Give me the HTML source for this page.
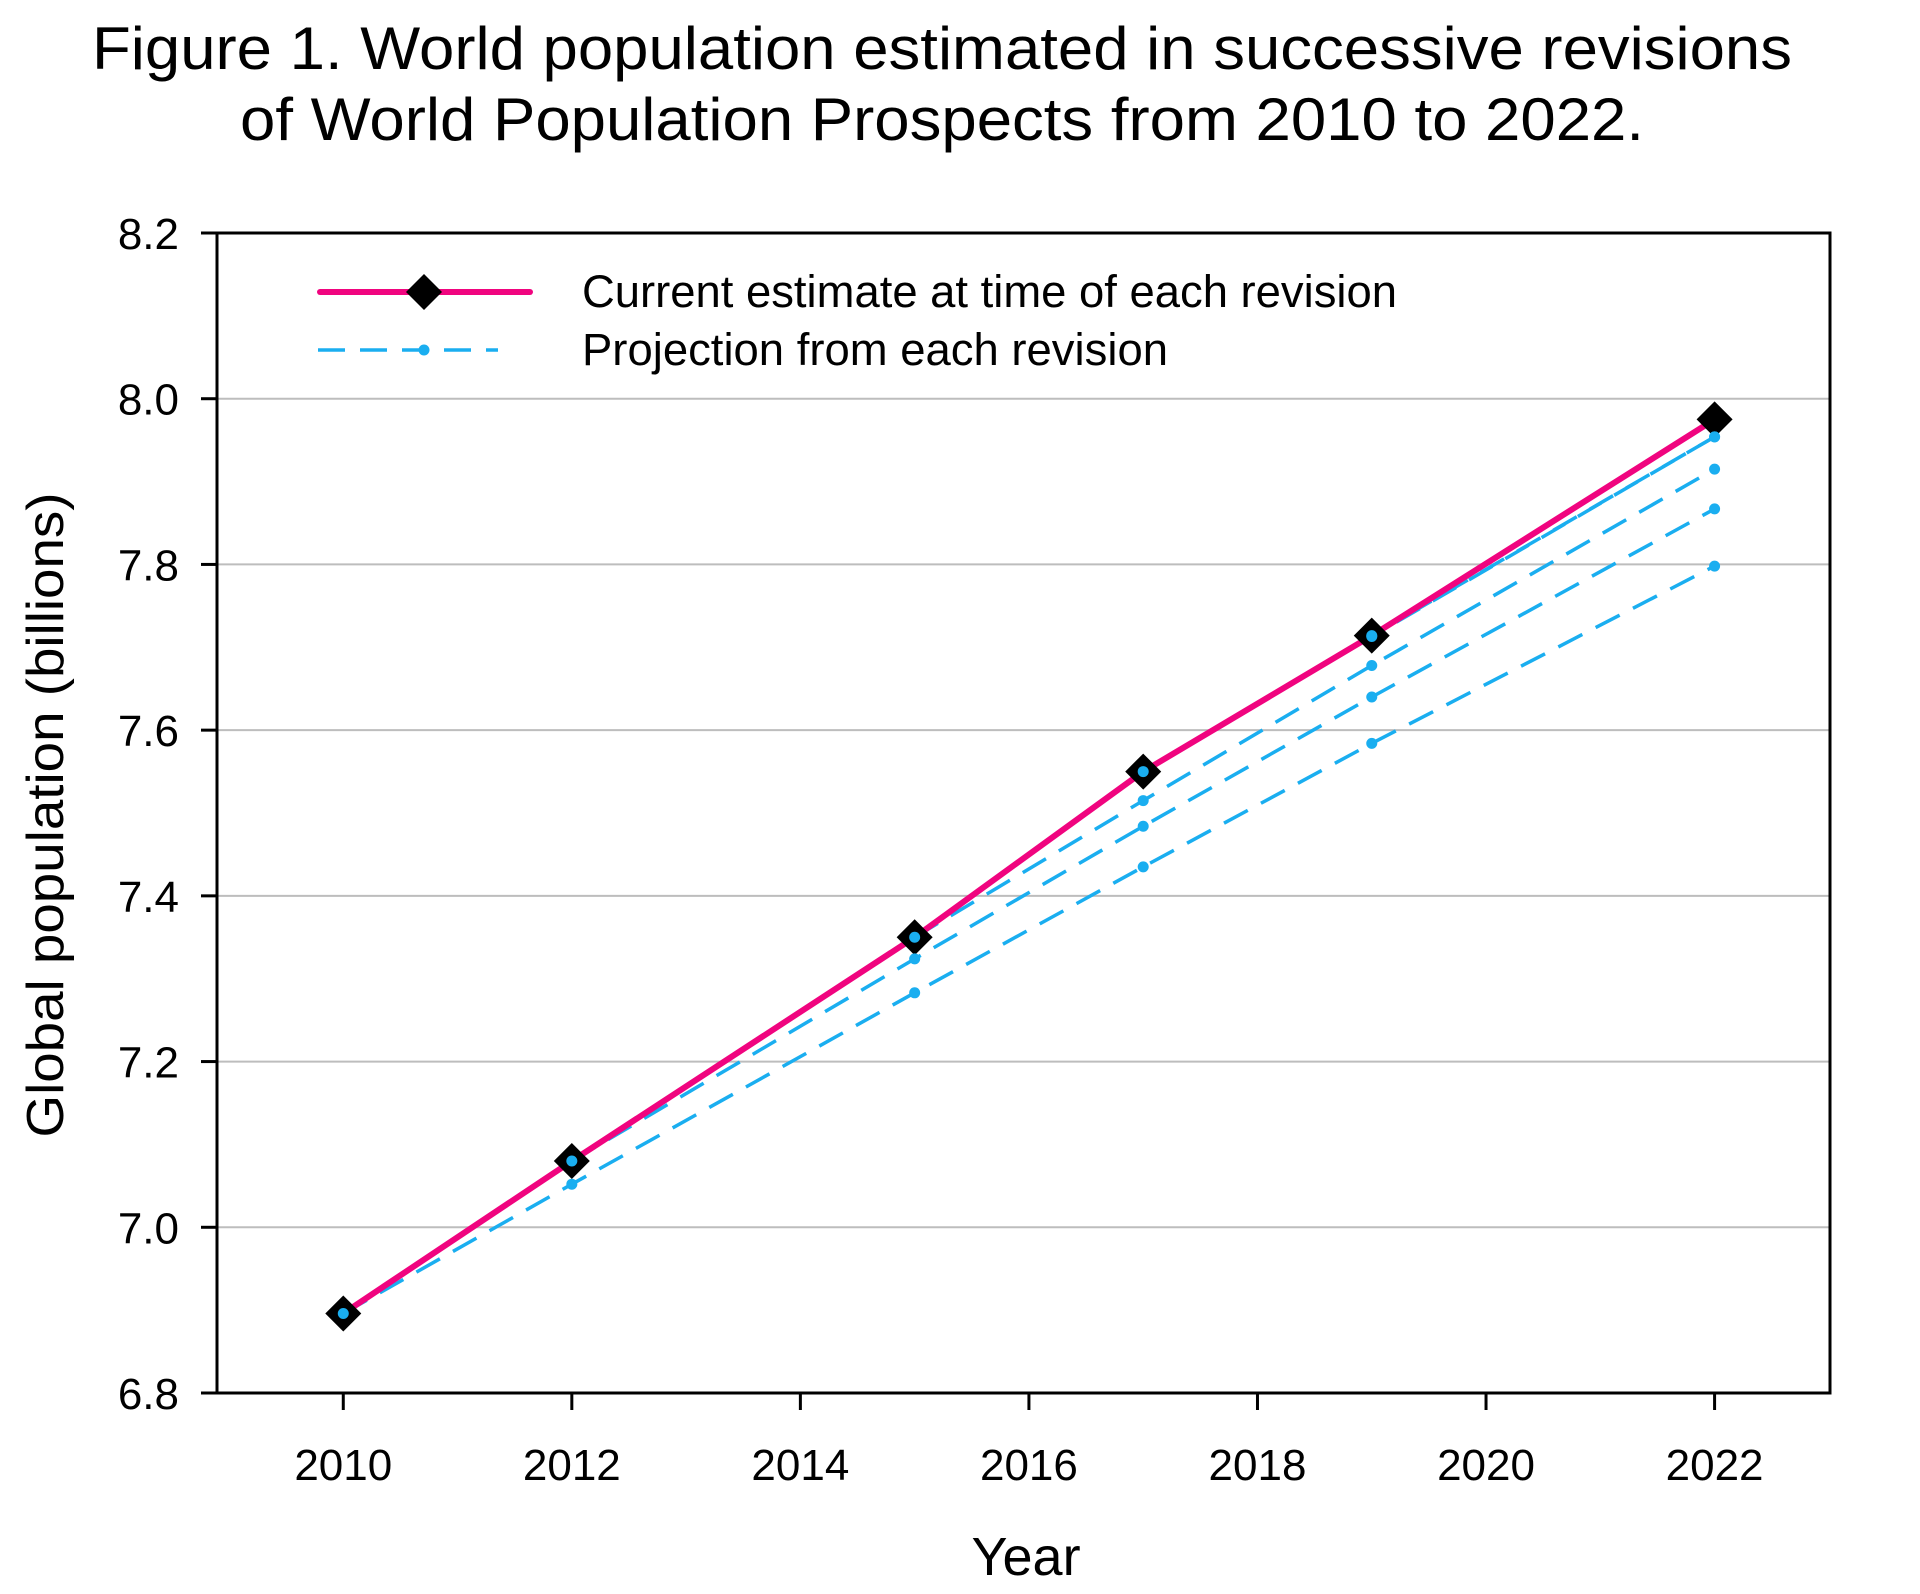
<!DOCTYPE html>
<html><head><meta charset="utf-8"><style>
html,body{margin:0;padding:0;background:#fff;}
svg{display:block;font-family:"Liberation Sans",Arial,sans-serif;}
</style></head><body>
<svg id="chart" width="1920" height="1594" viewBox="0 0 1920 1594" xmlns="http://www.w3.org/2000/svg">
<text x="942" y="69" font-size="60" text-anchor="middle" textLength="1700" lengthAdjust="spacingAndGlyphs">Figure 1. World population estimated in successive revisions</text>
<text x="942" y="140" font-size="60" text-anchor="middle" textLength="1404" lengthAdjust="spacingAndGlyphs">of World Population Prospects from 2010 to 2022.</text>
<g id="grid"></g>
<g id="series"></g>
<g id="axes"></g>
<g>
<line x1="320" y1="292" x2="530" y2="292" stroke="#f0047f" stroke-width="6" stroke-linecap="round"/>
<polygon points="424,274 442,292 424,310 406,292" fill="#000"/>
<text x="582" y="307" font-size="45" textLength="815" lengthAdjust="spacingAndGlyphs">Current estimate at time of each revision</text>
<line x1="318" y1="350" x2="498" y2="350" stroke="#1aaef0" stroke-width="3.5" stroke-dasharray="27,15"/>
<circle cx="424" cy="350" r="5.5" fill="#1aaef0"/>
<text x="582" y="365" font-size="45" textLength="586" lengthAdjust="spacingAndGlyphs">Projection from each revision</text>
</g>
<text transform="translate(63,815) rotate(-90)" font-size="52" text-anchor="middle" textLength="645" lengthAdjust="spacingAndGlyphs">Global population (billions)</text>
<text x="1026" y="1575" font-size="54" text-anchor="middle">Year</text>
</svg>
<script>
const yTicks = [6.8, 7.0, 7.2, 7.4, 7.6, 7.8, 8.0, 8.2];
const xTicks = [2010, 2012, 2014, 2016, 2018, 2020, 2022];
const revisionYears = [2010, 2012, 2015, 2017, 2019, 2022];
const currentEstimates = [6.896, 7.080, 7.350, 7.550, 7.714, 7.975];
const proj2010 = [6.896, 7.052, 7.283, 7.435, 7.584, 7.798];
const proj2012 = [7.080, 7.324, 7.484, 7.640, 7.867];
const proj2015 = [7.350, 7.515, 7.678, 7.915];
const proj2017 = [7.550, 7.713, 7.954];
const proj2019 = [7.714, 7.954];

const L=217, R=1830, T=233, B=1393;
const X0=2008.895, X1=2023.01;
function xs(v){return L+(v-X0)/(X1-X0)*(R-L);}
function ys(v){return B-(v-6.8)/(8.2-6.8)*(B-T);}
const NS='http://www.w3.org/2000/svg';
function mk(tag, parent, attrs){const e=document.createElementNS(NS,tag);for(const k in attrs)e.setAttribute(k,attrs[k]);parent.appendChild(e);return e;}
const grid=document.getElementById('grid'), series=document.getElementById('series'), axes=document.getElementById('axes');

yTicks.forEach(v=>{
  if(v>6.8 && v<8.2){
    const g=mk('line',grid,{x1:L,x2:R,y1:ys(v),y2:ys(v),stroke:'#bdbdbd','stroke-width':2});
    
    
  }
  const t=mk('line',axes,{x1:L-16,x2:L,y1:ys(v),y2:ys(v),stroke:'#000','stroke-width':3});
  
  
  const lb=mk('text',axes,{x:L-38,y:ys(v)+16,'font-size':44,'text-anchor':'end'});
  lb.textContent=v.toFixed(1);
  
  
});
xTicks.forEach(v=>{
  const t=mk('line',axes,{x1:xs(v),x2:xs(v),y1:B,y2:B+17,stroke:'#000','stroke-width':3});
  
  
  const lb=mk('text',axes,{x:xs(v),y:B+87,'font-size':44,'text-anchor':'middle'});
  lb.textContent=String(v);
  
  
});
const frame=mk('rect',axes,{x:L,y:T,width:R-L,height:B-T,fill:'none',stroke:'#000','stroke-width':3});



const projections=[proj2010,proj2012,proj2015,proj2017,proj2019];
projections.forEach((arr,i)=>{
  const yrs=revisionYears.slice(i, i+arr.length);
  const pts=arr.map((v,j)=>xs(yrs[j])+','+ys(v)).join(' ');
  const pl=mk('polyline',series,{points:pts,fill:'none',stroke:'#1aaef0','stroke-width':3.5,'stroke-dasharray':'27,15'});
  
  
});
const cpts=currentEstimates.map((v,j)=>xs(revisionYears[j])+','+ys(v)).join(' ');
const cl=mk('polyline',series,{points:cpts,fill:'none',stroke:'#f0047f','stroke-width':6,'stroke-linejoin':'round'});


currentEstimates.forEach((v,j)=>{
  const cx=xs(revisionYears[j]), cy=ys(v), s=18;
  const d=mk('polygon',series,{points:`${cx},${cy-s} ${cx+s},${cy} ${cx},${cy+s} ${cx-s},${cy}`,fill:'#000'});
  
  
});
projections.forEach((arr,i)=>{
  arr.forEach((v,j)=>{
    const c=mk('circle',series,{cx:xs(revisionYears[i+j]),cy:ys(v),r:5.5,fill:'#1aaef0'});
    
    
  });
});
</script>
</body></html>
